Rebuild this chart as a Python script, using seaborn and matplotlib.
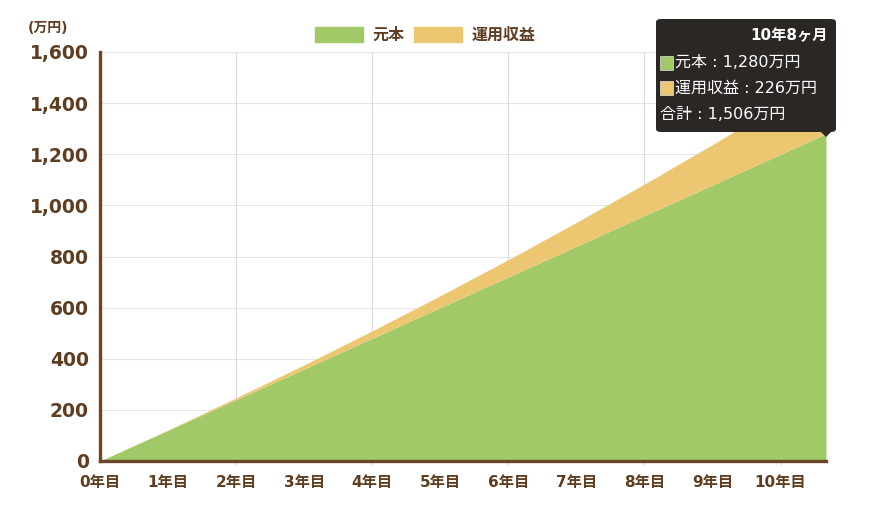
import matplotlib
matplotlib.use("Agg")
import matplotlib.pyplot as plt
import seaborn as sns
import pandas as pd
from matplotlib.patches import Patch, FancyBboxPatch, Rectangle, Polygon

# months since start (yearly points + final month 10年8ヶ月)
months = [0, 12, 24, 36, 48, 60, 72, 84, 96, 108, 120, 128]
principal = [0, 120, 240, 360, 480, 600, 720, 840, 960, 1080, 1200, 1280]
returns = [0, 1.7, 7.0, 16.2, 29.3, 46.5, 67.8, 93.4, 123.5, 158.1, 197.4, 226]
year_labels = [f"{i}年目" for i in range(11)]
y_ticks = [0, 200, 400, 600, 800, 1000, 1200, 1400, 1600]

df = pd.DataFrame({"months": months, "元本": principal, "運用収益": returns})
df["years"] = df["months"] / 12

GREEN = "#a1c968"
YELLOW = "#ecc671"
BROWN = "#5e3d20"
AXIS = "#6b4526"
FAM = ["DejaVu Sans", "Noto Sans CJK JP"]

sns.set_style("white")
plt.rcParams["font.family"] = FAM

fig = plt.figure(figsize=(8.7, 5.13), dpi=100)
ax = fig.add_axes([100 / 870, 1 - 461 / 513, 726 / 870, 409 / 513])

ax.stackplot(df["years"], df["元本"], df["運用収益"], colors=[GREEN, YELLOW], lw=0)

ax.set_xlim(0, df["years"].iloc[-1])
ax.set_ylim(0, 1600)
ax.set_yticks(y_ticks)
ax.set_yticklabels([f"{v:,}" for v in y_ticks], fontsize=13.5, fontweight="bold", color=BROWN)
ax.set_xticks(range(11))
ax.set_xticklabels(year_labels, fontsize=11, fontweight="bold", color=BROWN)
ax.tick_params(axis="y", length=0, pad=8)
ax.tick_params(axis="x", length=0, pad=10)

for v in y_ticks[1:]:
    ax.axhline(v, color="#e6e6e6", lw=0.8, zorder=0)
for x in [2, 4, 6, 8, 10]:
    ax.axvline(x, color="#dcdcdc", lw=0.8, zorder=0)
    ax.plot([x, x], [0, -12], color="#cccccc", lw=0.8, clip_on=False)

for side in ["top", "right"]:
    ax.spines[side].set_visible(False)
for side in ["left", "bottom"]:
    ax.spines[side].set_color(AXIS)
    ax.spines[side].set_linewidth(2.4)
ax.set_axisbelow(True)

fig.text(28 / 870, 1 - 28 / 513, "(万円)", fontsize=10, fontweight="bold",
         color=BROWN, va="center")

handles = [Patch(color=GREEN, label="元本"), Patch(color=YELLOW, label="運用収益")]
fig.legend(handles=handles, loc="center", bbox_to_anchor=(425 / 870, 1 - 35 / 513),
           ncol=2, frameon=False, handlelength=3.0, handleheight=1.1,
           columnspacing=0.6, handletextpad=0.6,
           prop={"family": FAM, "weight": "bold", "size": 11.5})
for t in fig.legends[0].get_texts():
    t.set_color(BROWN)

# tooltip
tf = fig.transFigure
def fx(px):
    return px / 870
def fy(py):
    return 1 - py / 513

DARK = "#2b2724"
box = FancyBboxPatch((fx(656), fy(132)), fx(836) - fx(656), fy(19) - fy(132),
                     boxstyle="round,pad=0,rounding_size=0.006", transform=tf,
                     facecolor=DARK, edgecolor="none", zorder=10)
fig.patches.append(box)
fig.patches.append(Polygon([(fx(820), fy(131)), (fx(832), fy(131)), (fx(826), fy(137))],
                           closed=True, transform=tf, facecolor=DARK, edgecolor="none",
                           zorder=10))

last = df.iloc[-1]
total = last["元本"] + last["運用収益"]
fig.text(fx(828), fy(36), "10年8ヶ月", transform=tf, ha="right", va="center",
         color="white", fontsize=11, fontweight="bold", zorder=11)
rows = [(GREEN, f"元本 : {int(last['元本']):,}万円", 63),
        (YELLOW, f"運用収益 : {int(last['運用収益']):,}万円", 88)]
for c, txt, py in rows:
    fig.patches.append(Rectangle((fx(660), fy(py + 7)), fx(673) - fx(660), fy(py - 7) - fy(py + 7),
                                 transform=tf, facecolor=c, edgecolor="white", lw=0.4,
                                 zorder=11))
    fig.text(fx(675), fy(py), txt, transform=tf, ha="left", va="center",
             color="white", fontsize=11.5, zorder=11)
fig.text(fx(660), fy(115), f"合計 : {int(total):,}万円", transform=tf, ha="left",
         va="center", color="white", fontsize=11.5, zorder=11)

fig.savefig("out.png", dpi=100)
